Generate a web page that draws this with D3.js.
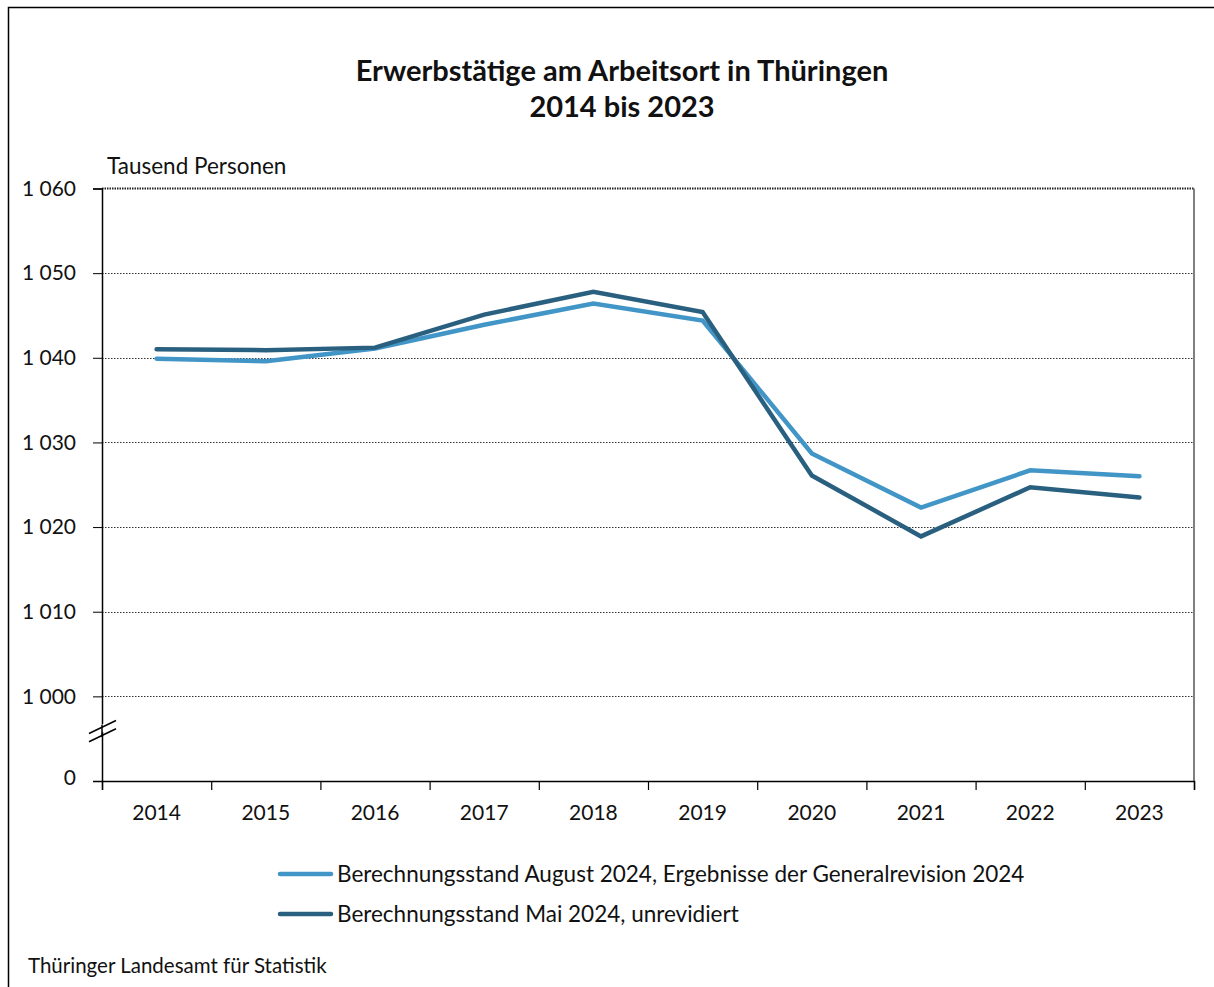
<!DOCTYPE html>
<html>
<head>
<meta charset="utf-8">
<script src="https://cdn.jsdelivr.net/npm/d3@7"></script>
<style>
  body { margin: 0; background: #fff; }
  svg text { font-family: Lato, "Noto Sans", sans-serif; fill: #111; }
</style>
</head>
<body>
<div id="chart"></div>
<script>
var width = 1214;
var height = 987;

var years = ["2014", "2015", "2016", "2017", "2018", "2019", "2020", "2021", "2022", "2023"];
var august2024 = [1039.9, 1039.6, 1041.1, 1043.9, 1046.4, 1044.4, 1028.7, 1022.3, 1026.7, 1026.0];
var mai2024 = [1041.0, 1040.9, 1041.2, 1045.1, 1047.8, 1045.4, 1026.1, 1018.9, 1024.7, 1023.5];
var yTicks = [990, 1000, 1010, 1020, 1030, 1040, 1050, 1060];
var seriesNames = ["Berechnungsstand August 2024, Ergebnisse der Generalrevision 2024",
                   "Berechnungsstand Mai 2024, unrevidiert"];
var colors = ["#4196c7", "#2a607f"];

var svg = d3.select("#chart").append("svg")
  .attr("width", width)
  .attr("height", height);

// outer frame
svg.append("path")
  .attr("d", "M8.5," + height + "V7.5H" + width)
  .attr("fill", "none")
  .attr("stroke", "#000")
  .attr("stroke-width", 1.5);

var x = d3.scaleBand().domain(years).range([102, 1194]);
var xEdge = d3.scaleLinear().domain([0, years.length]).range([102, 1194]);
var y = d3.scaleLinear().domain([990, 1060]).range([781, 188.5]);

// title
svg.append("text")
  .attr("x", 622).attr("y", 81)
  .attr("text-anchor", "middle")
  .style("font-size", "29px").style("font-weight", "bold")
  .text("Erwerbstätige am Arbeitsort in Thüringen");
svg.append("text")
  .attr("x", 622).attr("y", 117)
  .attr("text-anchor", "middle")
  .style("font-size", "29px").style("font-weight", "bold")
  .text("2014 bis 2023");

svg.append("text")
  .attr("x", 107).attr("y", 174)
  .style("font-size", "22.5px")
  .text("Tausend Personen");

// grid
svg.append("g").selectAll("line")
  .data(yTicks.filter(function(d) { return d > 990 && d < 1060; }))
  .enter().append("line")
  .attr("x1", 102).attr("x2", 1194)
  .attr("y1", function(d) { return Math.round(y(d)) + 0.5; })
  .attr("y2", function(d) { return Math.round(y(d)) + 0.5; })
  .attr("stroke", "#333")
  .attr("stroke-width", 1)
  .attr("stroke-dasharray", "1.5,1.5");

// top border (dotted, darker)
svg.append("line")
  .attr("x1", 102).attr("x2", 1194)
  .attr("y1", y(1060)).attr("y2", y(1060))
  .attr("stroke", "#222").attr("stroke-width", 2)
  .attr("stroke-dasharray", "1.5,1");
// right border
svg.append("line")
  .attr("x1", 1194).attr("x2", 1194)
  .attr("y1", y(1060)).attr("y2", y(990))
  .attr("stroke", "#555").attr("stroke-width", 1.5);

// y axis
var yAxis = d3.axisLeft(y).tickValues(yTicks).tickSize(9).tickPadding(17)
  .tickFormat(function(d) { return d == 990 ? "0" : d3.format(",")(d).replace(",", " "); });
var gy = svg.append("g")
  .attr("transform", "translate(102,0)")
  .call(yAxis);
gy.select(".domain").attr("stroke", "#000").attr("stroke-width", 1.5);
gy.selectAll(".tick line").attr("stroke", "#000");
gy.selectAll(".tick text").style("font-size", "21px").attr("fill", "#111");
gy.selectAll(".tick text").filter(function(d) { return d == 990; }).attr("dy", "0.15em");

// axis break marks
var brk = svg.append("g");
brk.append("polygon")
  .attr("points", "89,734 106,722 106,730 89,742")
  .attr("fill", "#fff");
[0, 8.3].forEach(function(o) {
  brk.append("line")
    .attr("x1", 89).attr("y1", 733.5 + o)
    .attr("x2", 116).attr("y2", 720.5 + o)
    .attr("stroke", "#000").attr("stroke-width", 1.5);
});
brk.append("line").attr("x1", 102).attr("x2", 102).attr("y1", 725).attr("y2", 737)
  .attr("stroke", "#000").attr("stroke-width", 1.5);

// x axis
var gx = svg.append("g")
  .attr("transform", "translate(0," + y(990) + ")")
  .call(d3.axisBottom(xEdge).ticks(years.length).tickSize(9).tickFormat(""));
gx.select(".domain").attr("stroke", "#000").attr("stroke-width", 1.5);
gx.selectAll(".tick line").attr("stroke", "#000").attr("stroke-width", 1.2);

var gxl = svg.append("g")
  .attr("transform", "translate(0," + y(990) + ")")
  .call(d3.axisBottom(x).tickSize(0).tickPadding(24));
gxl.select(".domain").remove();
gxl.selectAll(".tick text").style("font-size", "21px").attr("fill", "#111");

// lines
var line = d3.line()
  .x(function(d, i) { return x(years[i]) + x.bandwidth() / 2; })
  .y(function(d) { return y(d); });

[august2024, mai2024].forEach(function(s, i) {
  svg.append("path")
    .datum(s)
    .attr("d", line)
    .attr("fill", "none")
    .attr("stroke", colors[i])
    .attr("stroke-width", 4.5)
    .attr("stroke-linecap", "round")
    .attr("stroke-linejoin", "miter");
});

// legend
seriesNames.forEach(function(name, i) {
  var ly = 874 + i * 40;
  svg.append("line")
    .attr("x1", 280).attr("x2", 331)
    .attr("y1", ly).attr("y2", ly)
    .attr("stroke", colors[i]).attr("stroke-width", 4.5)
    .attr("stroke-linecap", "round");
  svg.append("text")
    .attr("x", 337).attr("y", ly + 7.5)
    .style("font-size", "22.5px")
    .text(name);
});

svg.append("text")
  .attr("x", 28).attr("y", 973)
  .style("font-size", "20.5px")
  .text("Thüringer Landesamt für Statistik");
</script>
</body>
</html>
